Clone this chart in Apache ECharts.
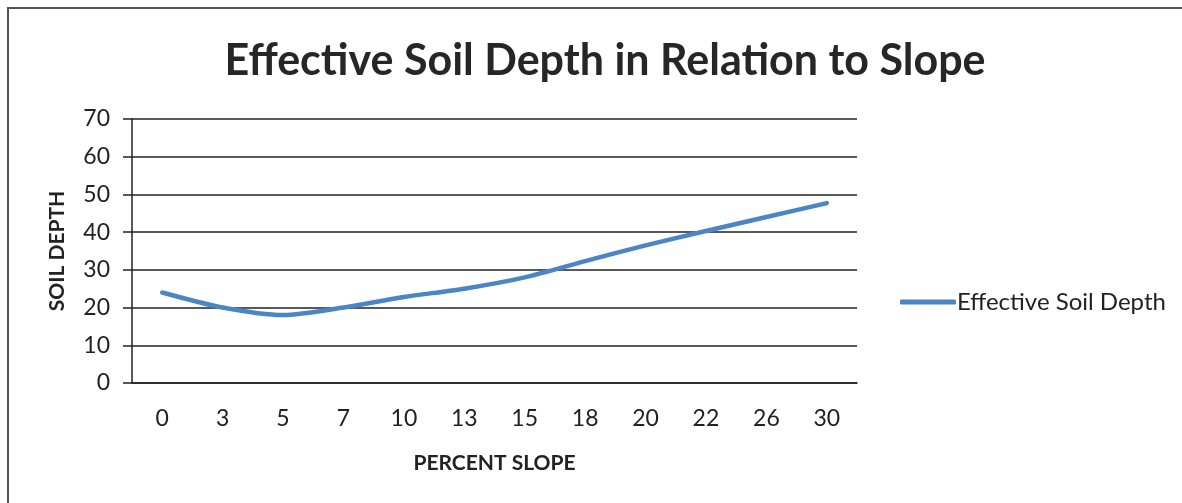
<!DOCTYPE html>
<html>
<head>
<meta charset="utf-8">
<script src="https://cdn.jsdelivr.net/npm/echarts@6/dist/echarts.min.js"></script>
<style>
  html, body { margin: 0; padding: 0; background: #fff; }
  #frame { position: absolute; left: 7px; top: 7px; width: 1190px; height: 520px; border: 2px solid #555; box-sizing: border-box; }
  #chart { position: absolute; left: 0; top: 0; width: 1182px; height: 503px; }
</style>
</head>
<body>
<div id="frame"></div>
<div id="chart"></div>
<script>
// percent slope categories
const slopes = ['0', '3', '5', '7', '10', '13', '15', '18', '20', '22', '26', '30']
// effective soil depth
const depth = [24, 20, 18, 20, 22.8, 25, 28, 32.3, 36.5, 40.3, 44, 47.7]
const yTicks = { min: 0, max: 70, interval: 10 }

const font = 'Lato, "Open Sans", sans-serif'
const chart = echarts.init(document.getElementById('chart'))

chart.setOption({
  animation: false,
  title: {
    text: 'Effective Soil Depth in Relation to Slope',
    left: 600,
    top: 35,
    textAlign: 'center',
    textStyle: { fontFamily: font, fontSize: 43, fontWeight: 'bold', color: '#262626' }
  },
  legend: {
    data: ['Effective Soil Depth'],
    left: 895,
    top: 285,
    icon: 'roundRect',
    itemWidth: 56,
    itemHeight: 5,
    itemGap: 4,
    textStyle: { fontFamily: font, fontSize: 24, color: '#222', padding: [0, 0, 0, -4] }
  },
  grid: { left: 132, right: 325, top: 119, bottom: 120 },
  xAxis: {
    type: 'category',
    data: slopes,
    boundaryGap: true,
    name: 'PERCENT SLOPE',
    nameLocation: 'middle',
    nameGap: 70,
    nameTextStyle: { fontFamily: font, fontSize: 21, fontWeight: 'bold', color: '#222' },
    axisLine: { lineStyle: { color: '#222', width: 1.5 } },
    axisTick: { show: false },
    axisLabel: { fontFamily: font, fontSize: 23, color: '#222', margin: 24 }
  },
  yAxis: {
    type: 'value',
    min: yTicks.min,
    max: yTicks.max,
    interval: yTicks.interval,
    name: 'SOIL DEPTH',
    nameLocation: 'middle',
    nameGap: 64,
    nameTextStyle: { fontFamily: font, fontSize: 21, fontWeight: 'bold', color: '#222' },
    axisLine: { show: true, lineStyle: { color: '#222', width: 1.5 } },
    axisTick: { show: true, length: 9, lineStyle: { color: '#222', width: 1.5 } },
    axisLabel: { fontFamily: font, fontSize: 23, color: '#222', margin: 22 },
    splitLine: { lineStyle: { color: '#222', width: 1.5 } }
  },
  series: [
    {
      name: 'Effective Soil Depth',
      type: 'line',
      data: depth,
      smooth: 0.25,
      showSymbol: false,
      symbol: 'none',
      itemStyle: { color: '#4A86C6' },
      lineStyle: { color: '#4A86C6', width: 4.5, cap: 'round' }
    }
  ]
})
</script>
</body>
</html>
